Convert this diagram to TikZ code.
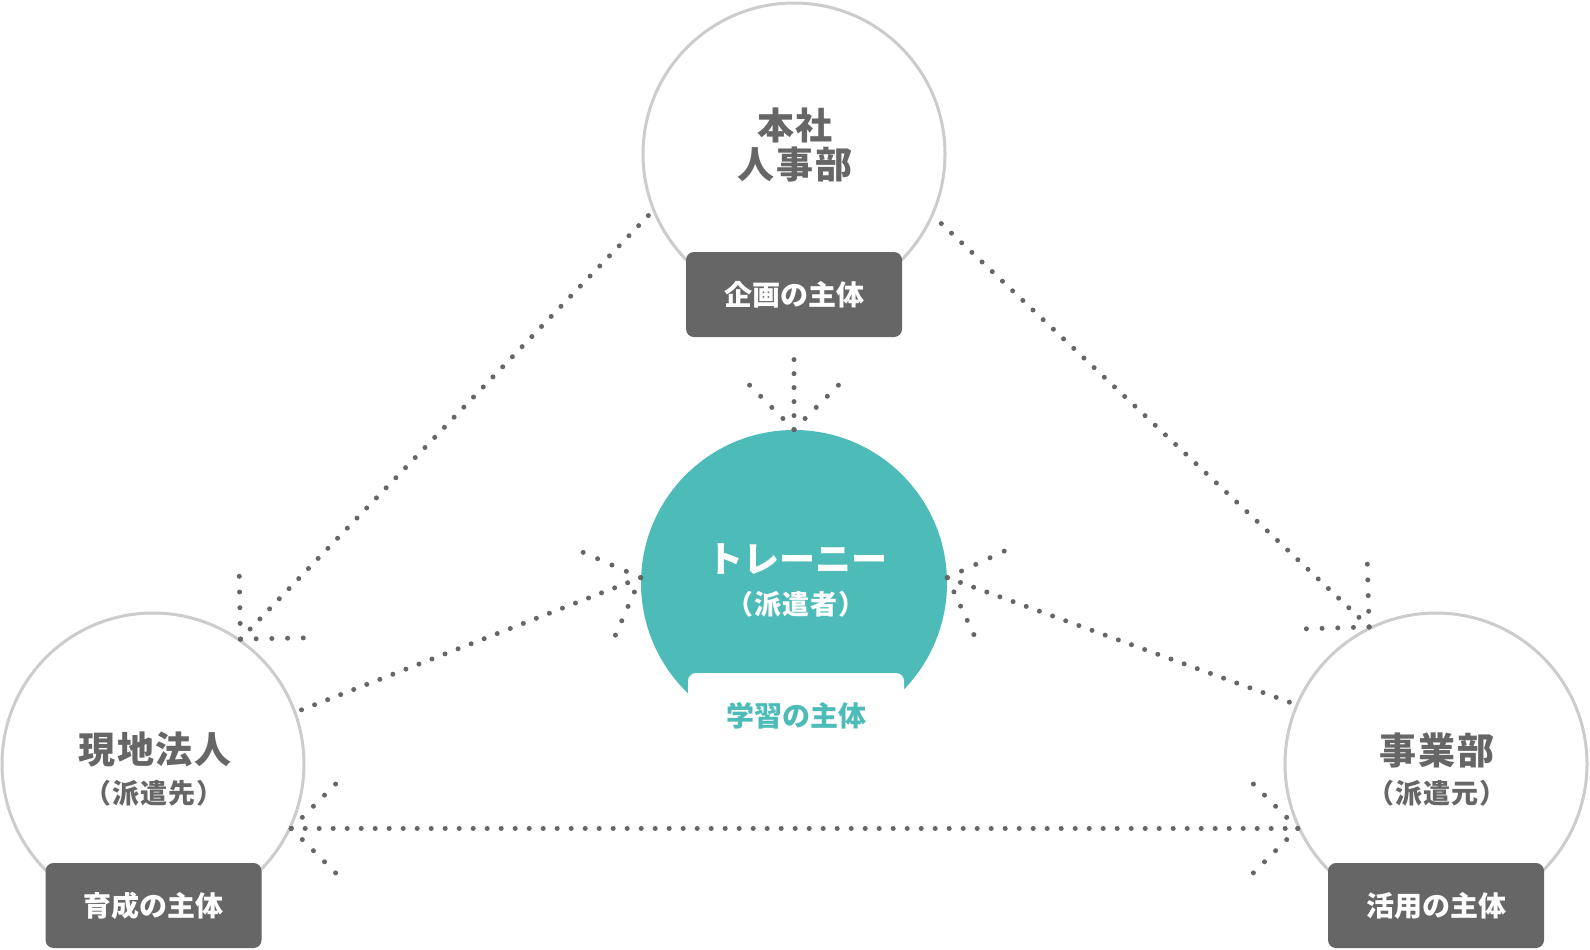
\documentclass[tikz,border=0pt]{standalone}
\usepackage{fontspec}
\setmainfont{Noto Sans CJK JP}
\usetikzlibrary{calc}
\definecolor{labelgray}{HTML}{666666}
\definecolor{ringgray}{HTML}{CCCCCC}
\definecolor{traineeteal}{HTML}{4DBBB7}
\tikzset{
  ring/.style={circle,draw=ringgray,line width=1.5pt,fill=white,minimum size=151pt,inner sep=0pt},
  tagbox/.style={rectangle,rounded corners=4pt,fill=labelgray,text=white,minimum width=108pt,minimum height=42.5pt,
    font=\fontsize{14pt}{16pt}\selectfont\bfseries},
  title/.style={text=labelgray,align=center,font=\fontsize{18.5pt}{19.5pt}\selectfont\bfseries\addfontfeature{LetterSpace=5}},
  subtitle/.style={text=labelgray,font=\fontsize{13.5pt}{15pt}\selectfont\bfseries\addfontfeature{LetterSpace=4}},
  dotline/.style={labelgray,line width=2.5pt,line cap=round,dash pattern=on 0pt off 7pt},
  dotarm/.style={dotline,dash pattern=on 0pt off 7.85pt}
}
\def\dothead#1#2{\draw[dotarm] (#2) -- ($(#2)!31.5pt!45:(#1)$);
                 \draw[dotarm] (#2) -- ($(#2)!31.5pt!-45:(#1)$);}

\begin{document}
\begin{tikzpicture}[x=0.5pt,y=-0.5pt]
  \useasboundingbox (0,0) rectangle (1590,949);
  \node[ring] (hq)    at (794,154)  {};
  \node[ring] (local) at (153,764)  {};
  \node[ring] (div)   at (1436,764) {};
  \node[circle,fill=traineeteal,minimum size=153pt,inner sep=0pt] (trainee) at (794,583) {};

  \node[tagbox] (plan) at (794,294.5)   {企画の主体};
  \node[tagbox] (grow) at (153.5,905.5) {育成の主体};
  \node[tagbox] (use)  at (1436,905.5)  {活用の主体};
  \node[tagbox,fill=white,text=traineeteal] (learn) at (796,715.5) {学習の主体};

  \node[title] (hqname)    at (795,145)  {本社\\人事部};
  \node[title] (localname) at (155,750)  {現地法人};
  \node[subtitle] (localsub) at (154,793) {（派遣先）};
  \node[title] (divname)   at (1437,750) {事業部};
  \node[subtitle] (divsub) at (1437,793) {（派遣元）};
  \node[title,text=white,font=\fontsize{18pt}{19pt}\selectfont\bfseries] (trname) at (797,559) {トレーニー};
  \node[subtitle,text=white] (trsub) at (796,604) {（派遣者）};

  \draw[dotline] (local.55) -- (hq.202);      \dothead{hq.202}{local.55}
  \draw[dotline] (div.116) -- (hq.-24);       \dothead{hq.-24}{div.116}
  \draw[dotline] (trainee.north) -- ([yshift=-5pt]plan.south); \dothead{plan.south}{trainee.north}
  \draw[dotline] (trainee.178.5) -- (local.20); \dothead{local.20}{trainee.178.5}
  \draw[dotline] (trainee.2) -- (div.157);    \dothead{div.157}{trainee.2}
  \draw[dotline] (local.-25) -- (div.205);
  \dothead{div.205}{local.-25}
  \dothead{local.-25}{div.205}
\end{tikzpicture}
\end{document}
